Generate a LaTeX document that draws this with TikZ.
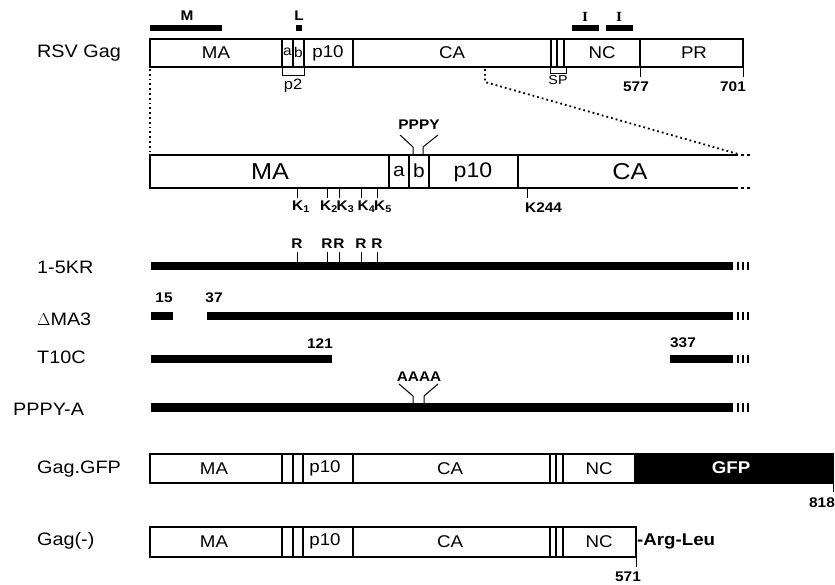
\documentclass[tikz,border=0pt]{standalone}
\usepackage{fontspec}
\setmainfont{Liberation Sans}[FakeStretch=1.1]
\newfontfamily\serifbf{Liberation Serif}[FakeStretch=1.1]
\newcommand\mkends[2]{\foreach \xx in {737,742,747}{\fill (\xx,#1) rectangle (\xx+2,#2);}}
\begin{document}
\begin{tikzpicture}[x=1pt,y=-1pt,
  box/.style={line width=1.4pt},
  sep/.style={line width=1.2pt},
  thinl/.style={line width=1pt},
  dots/.style={line width=1.8pt, dash pattern=on 1.8pt off 3pt},
  t/.style={inner sep=0pt},
  rowlab/.style={inner sep=0pt, anchor=west, font=\fontsize{18}{20}\selectfont},
  seg/.style={inner sep=0pt, font=\fontsize{17}{19}\selectfont},
  segsm/.style={inner sep=0pt, font=\fontsize{14}{16}\selectfont},
  big/.style={inner sep=0pt, font=\fontsize{23}{25}\selectfont},
  mid/.style={inner sep=0pt, font=\fontsize{19}{21}\selectfont},
  num/.style={inner sep=0pt, font=\fontsize{14}{16}\selectfont\bfseries},
  small/.style={inner sep=0pt, font=\fontsize{13}{15}\selectfont},
]
\useasboundingbox (0,0) rectangle (835,584);

% ---------------- left labels
\node[rowlab] (lrsv) at (37,53) {RSV Gag};
\node[rowlab] (lkr) at (37,267) {1-5KR};
\node[rowlab] (ldma) at (37,319) {$\Delta$MA3};
\node[rowlab] (lt10) at (37,357) {T10C};
\node[rowlab] (lpppya) at (13,409) {PPPY-A};
\node[rowlab] (lgfp) at (37,469) {Gag.GFP};
\node[rowlab] (lneg) at (37,541) {Gag(-)};

% ---------------- RSV Gag top box
\draw[box] (150,39) rectangle (743,67);
\foreach \x in {282,293,304,353,551,557,564,640} \draw[sep] (\x,39) -- (\x,67);
\node[seg] (tma) at (216,53) {MA};
\node[segsm] (ta) at (287.5,52) {a};
\node[segsm] (tb) at (298.5,52) {b};
\node[seg] (tp10) at (328,53) {p10};
\node[seg] (tca) at (452,53) {CA};
\node[seg] (tnc) at (602,53) {NC};
\node[seg] (tpr) at (694,53) {PR};
% bars above
\fill (150,25) rectangle (222,31);
\fill (296,25) rectangle (302,31);
\fill (572,25) rectangle (599,31);
\fill (606,25) rectangle (633,31);
\node[num] (lm) at (187,16) {M};
\node[num] (ll) at (299,16) {L};
\node[t, font=\fontsize{14}{16}\selectfont\serifbf\bfseries] (li1) at (585,17) {I};
\node[t, font=\fontsize{14}{16}\selectfont\serifbf\bfseries] (li2) at (619,17) {I};
% brackets
\draw[thinl] (282,67) -- (282,75) -- (304,75) -- (304,67);
\node[t, font=\fontsize{15}{17}\selectfont] (lp2) at (293,86) {p2};
\draw[thinl] (550,67) -- (550,73) -- (566,73) -- (566,67);
\node[t, font=\fontsize{13}{15}\selectfont] (lsp) at (558,80) {SP};
% ticks
\draw[thinl] (640,67) -- (640,77);
\draw[thinl] (743,67) -- (743,77);
\node[num] (n577) at (636,87) {577};
\node[num] (n701) at (733,87) {701};

% ---------------- dotted zoom lines
\draw[dots] (150,69) -- (150,154);
\draw[dots] (485,69) -- (485,82) -- (738,154);

% ---------------- expanded box
\draw[box] (738,155) -- (150,155) -- (150,188) -- (738,188);
\draw[box, dash pattern=on 3pt off 3pt] (741,155) -- (751,155);
\draw[box, dash pattern=on 3pt off 3pt] (741,188) -- (751,188);
\foreach \x in {389,409,429,518} \draw[sep] (\x,155) -- (\x,188);
\node[big] (ema) at (270,172) {MA};
\node[mid] (ea) at (399,171) {a};
\node[mid] (eb) at (419,171) {b};
\node[mid, font=\fontsize{21}{23}\selectfont] (ep10) at (473,172) {p10};
\node[big] (eca) at (630,172) {CA};
% PPPY
\draw[thinl] (400,135) -- (413,147) -- (413,155);
\draw[thinl] (438,135) -- (423,147) -- (423,155);
\node[num] (lpppy) at (419,125) {PPPY};
% K ticks
\foreach \x in {297,327,339,361,377,527} \draw[thinl] (\x,188) -- (\x,198);
\node[num, anchor=west] (k1) at (292,207) {K\textsubscript{1}};
\node[num, anchor=west] (k2) at (320,207) {K\textsubscript{2}};
\node[num, anchor=west] (k3) at (336.5,207) {K\textsubscript{3}};
\node[num, anchor=west] (k4) at (357.5,207) {K\textsubscript{4}};
\node[num, anchor=west] (k5) at (374,207) {K\textsubscript{5}};
\node[num, anchor=west] (k244) at (525,208) {K244};

% ---------------- 1-5KR
\fill (151,262) rectangle (733,270);
\mkends{262}{270}
\foreach \x in {297,327,339,361,377} \draw[thinl] (\x,252) -- (\x,262);
\node[num] (r1) at (297,244) {R};
\node[num] (r2) at (327,244) {R};
\node[num] (r3) at (339,244) {R};
\node[num] (r4) at (361,244) {R};
\node[num] (r5) at (377,244) {R};

% ---------------- dMA3
\fill (151,312) rectangle (173,320);
\fill (207,312) rectangle (733,320);
\mkends{312}{320}
\node[num] (n15) at (164,298) {15};
\node[num] (n37) at (214,298) {37};

% ---------------- T10C
\fill (151,355) rectangle (332,363);
\fill (670,355) rectangle (733,363);
\mkends{355}{363}
\node[num] (n121) at (320,344) {121};
\node[num] (n337) at (683,343) {337};

% ---------------- PPPY-A
\fill (151,403) rectangle (733,412);
\mkends{403}{412}
\draw[thinl] (399,384) -- (413,396) -- (413,403);
\draw[thinl] (438,384) -- (424,396) -- (424,403);
\node[num] (laaaa) at (419,377) {AAAA};

% ---------------- Gag.GFP
\fill (634,454) rectangle (833,483);
\draw[box] (150,454) rectangle (833,483);
\foreach \x in {282,293,303,353,550,556,563} \draw[sep] (\x,454) -- (\x,483);
\node[seg] (gma) at (214,469) {MA};
\node[seg] (gp10) at (325,468) {p10};
\node[seg] (gca) at (450,469) {CA};
\node[seg] (gnc) at (599,469) {NC};
\node[seg, text=white, font=\fontsize{17}{19}\selectfont\bfseries] (ggfp) at (731,468) {GFP};
\draw[thinl] (833,483) -- (833,492);
\node[num] (n818) at (822,503) {818};

% ---------------- Gag(-)
\draw[box] (150,527) rectangle (636,557);
\foreach \x in {282,293,303,353,550,556,563} \draw[sep] (\x,527) -- (\x,557);
\node[seg] (nma) at (214,542) {MA};
\node[seg] (np10) at (325,541) {p10};
\node[seg] (nca) at (450,542) {CA};
\node[seg] (nnc) at (599,542) {NC};
\node[t, anchor=west, font=\fontsize{17}{19}\selectfont\bfseries] (larg) at (637,541) {-Arg-Leu};
\draw[thinl] (636,557) -- (636,567);
\node[num] (n571) at (628,577) {571};
\end{tikzpicture}
\end{document}
